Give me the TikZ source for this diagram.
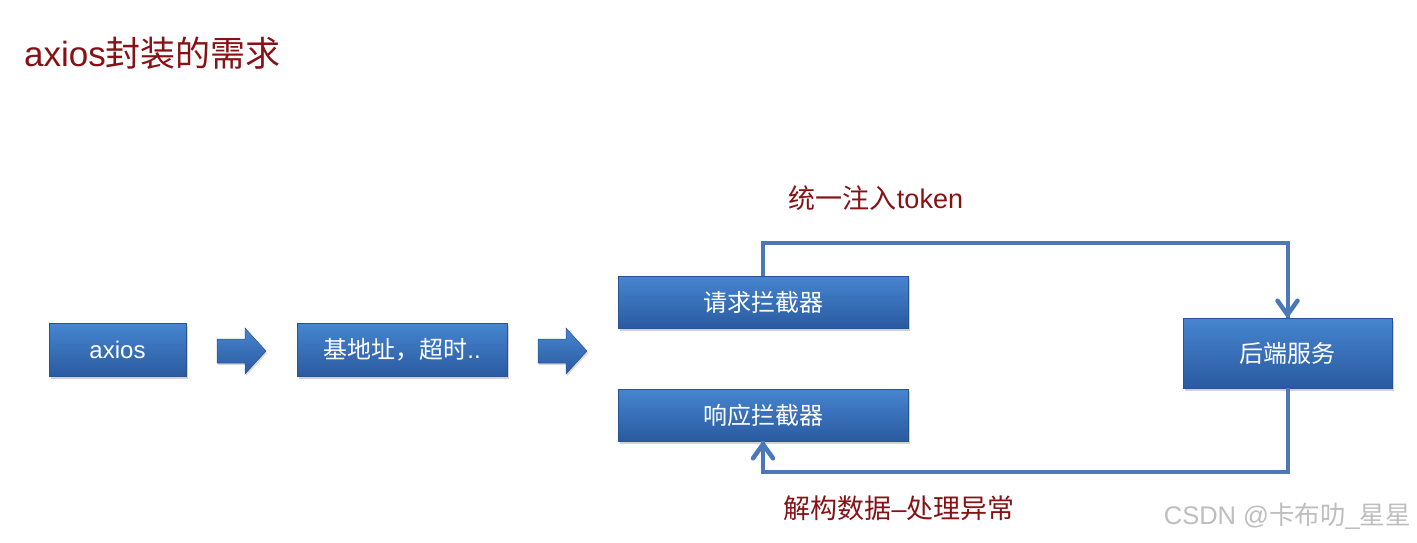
\documentclass[tikz,border=0pt]{standalone}
\usepackage{fontspec}
\setmainfont{Liberation Sans}
\newfontfamily\cjk{Noto Sans CJK SC}
\usetikzlibrary{arrows.meta,shadows,calc}
\definecolor{boxtop}{RGB}{70,133,208}
\definecolor{boxbot}{RGB}{42,90,160}
\definecolor{boxedge}{RGB}{40,84,150}
\definecolor{conn}{RGB}{74,120,184}
\definecolor{titlered}{RGB}{135,18,22}
\definecolor{wm}{RGB}{190,190,190}
\tikzset{
  bluebox/.style={rectangle, draw=boxedge, line width=0.6pt, top color=boxtop, bottom color=boxbot,
    text=white, font=\fontsize{24}{24}\selectfont, inner sep=0pt,
    drop shadow={opacity=0.35, shadow xshift=1.5pt, shadow yshift=-2.5pt}},
  connline/.style={draw=conn, line width=4pt, line join=miter},
  chevron/.style={draw=conn, line width=4.5pt, line join=round, line cap=round},
  blockarrow/.style={draw=boxedge, line width=0.5pt, top color=boxtop, bottom color=boxbot,
    drop shadow={opacity=0.3, shadow xshift=1pt, shadow yshift=-2pt}},
  redlabel/.style={text=titlered, font=\fontsize{27}{27}\selectfont, inner sep=0pt}
}
\begin{document}
\begin{tikzpicture}[x=1pt,y=-1pt]
\useasboundingbox[fill=white] (0,0) rectangle (1417,542);
% title
\node[anchor=west, text=titlered, font=\fontsize{35}{35}\selectfont, inner sep=0pt] (title) at (24,53) {axios{\cjk 封装的需求}};
% boxes
\node[bluebox, minimum width=137pt, minimum height=53pt] (ax) at (117.5,350) {axios};
\node[bluebox, minimum width=210pt, minimum height=53pt] (base) at (402,350) {{\cjk 基地址，超时}..};
\node[bluebox, minimum width=290pt, minimum height=52pt] (req) at (763,302) {\cjk 请求拦截器};
\node[bluebox, minimum width=290pt, minimum height=52pt] (resp) at (763,415) {\cjk 响应拦截器};
\node[bluebox, minimum width=209pt, minimum height=70pt] (srv) at (1287.5,353) {\cjk 后端服务};
% block arrows
\coordinate (a1) at (217,351);
\coordinate (a2) at (538,351);
\foreach \p in {a1,a2}{
  \path[blockarrow] ($( \p)+(0,-12)$) -- ++(28,0) -- ++(0,-11) -- ++(21,23) -- ++(-21,23) -- ++(0,-11) -- ++(-28,0) -- cycle;
}
% connectors
\draw[connline] (req.north) -- ++(0,-33) -| (srv.north);
\draw[connline] (srv.south) -- ++(0,84) -| (resp.south);
% arrowheads
\coordinate (t1) at ($(srv.north)+(0,-3)$);
\coordinate (t2) at ($(resp.south)+(0,3)$);
\draw[chevron] ($(t1)+(-10,-14)$) -- (t1) -- ($(t1)+(10,-14)$);
\draw[chevron] ($(t2)+(-10,14)$) -- (t2) -- ($(t2)+(10,14)$);
% labels
\node[redlabel] (lt) at (876,198) {{\cjk 统一注入}token};
\node[redlabel] (lb) at (899,508) {{\cjk 解构数据}–{\cjk 处理异常}};
% watermark
\node[anchor=east, text=wm, font=\fontsize{25.5}{25.5}\selectfont, inner sep=0pt] (wmk) at (1411,516) {CSDN @{\cjk 卡布叻}\_{\cjk 星星}};
\end{tikzpicture}
\end{document}
